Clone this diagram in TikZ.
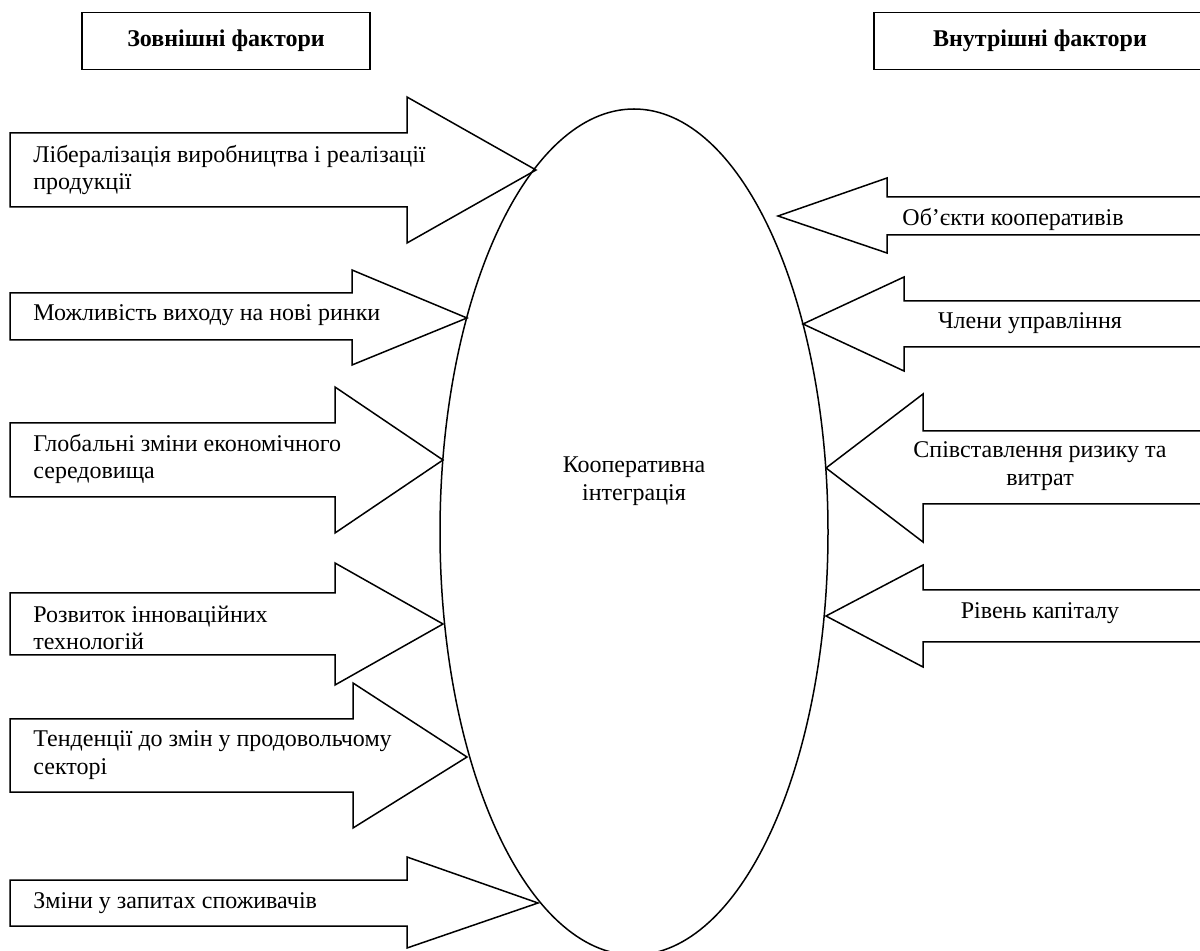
\documentclass[tikz,border=0pt]{standalone}
\usepackage{fontspec}
\setmainfont{Liberation Serif}
\begin{document}
\begin{tikzpicture}[x=0.5pt,y=-0.5pt,
  shapeline/.style={draw=black, line width=0.75pt, line join=miter},
  lbl/.style={font=\fontsize{12}{13.8}\selectfont, inner sep=0pt},
  headbox/.style={draw=black, line width=0.75pt, font=\fontsize{12}{13.8}\selectfont\bfseries, inner sep=0pt, minimum height=28.5pt}]
\useasboundingbox (0,0) rectangle (1200,951);
\begin{scope}
\clip (0,0) rectangle (1200,951);
% header boxes
\node (ext) [headbox, minimum width=144pt] at (226,41) {Зовнішні фактори};
\node (int) [headbox, minimum width=166pt] at (1040,41) {Внутрішні фактори};
% central ellipse
\draw[shapeline] (634,532) ellipse [x radius=97pt, y radius=211.5pt];
\node (coop) [lbl, align=center] at (634,481) {Кооперативна\\інтеграція};
% left arrows
\draw[shapeline] (10,133) -- (407,133) -- (407,97) -- (536,170) -- (407,243) -- (407,207) -- (10,207) -- cycle;
\draw[shapeline] (10,293) -- (352,293) -- (352,270) -- (467,318) -- (352,365) -- (352,340) -- (10,340) -- cycle;
\draw[shapeline] (10,423) -- (335,423) -- (335,387) -- (443,460) -- (335,533) -- (335,497) -- (10,497) -- cycle;
\draw[shapeline] (10,593) -- (335,593) -- (335,563) -- (443,624) -- (335,685) -- (335,655) -- (10,655) -- cycle;
\draw[shapeline] (10,719) -- (353,719) -- (353,683) -- (467,757) -- (353,828) -- (353,792) -- (10,792) -- cycle;
\draw[shapeline] (10,880) -- (407,880) -- (407,857) -- (538,903) -- (407,948) -- (407,926) -- (10,926) -- cycle;
% left labels
\node (l1) [lbl, align=left, anchor=west] at (33,170) {Лібералізація виробництва і реалізації\\продукції};
\node (l2) [lbl, align=left, anchor=west] at (33,315) {Можливість виходу на нові ринки};
\node (l3) [lbl, align=left, anchor=west] at (33,459) {Глобальні зміни економічного\\середовища};
\node (l4) [lbl, align=left, anchor=west] at (33,628) {Розвиток інноваційних\\технологій};
\node (l5) [lbl, align=left, anchor=west] at (33,755) {Тенденції до змін у продовольчому\\секторі};
\node (l6) [lbl, align=left, anchor=west] at (33,903) {Зміни у запитах споживачів};
% right arrows
\draw[shapeline] (1210,197) -- (887,197) -- (887,178) -- (778,216) -- (887,253) -- (887,235) -- (1210,235);
\draw[shapeline] (1210,301) -- (904,301) -- (904,277) -- (803,324) -- (904,371) -- (904,347) -- (1210,347);
\draw[shapeline] (1210,431) -- (923,431) -- (923,394) -- (826,468) -- (923,542) -- (923,504) -- (1210,504);
\draw[shapeline] (1210,590) -- (923,590) -- (923,565) -- (826,616) -- (923,667) -- (923,642) -- (1210,642);
% right labels
\node (r1) [lbl] at (1013,219) {Об’єкти кооперативів};
\node (r2) [lbl] at (1030,323) {Члени управління};
\node (r3) [lbl, align=center] at (1040,466) {Співставлення ризику та\\витрат};
\node (r4) [lbl] at (1040,613) {Рівень капіталу};
\end{scope}
\end{tikzpicture}
\end{document}
